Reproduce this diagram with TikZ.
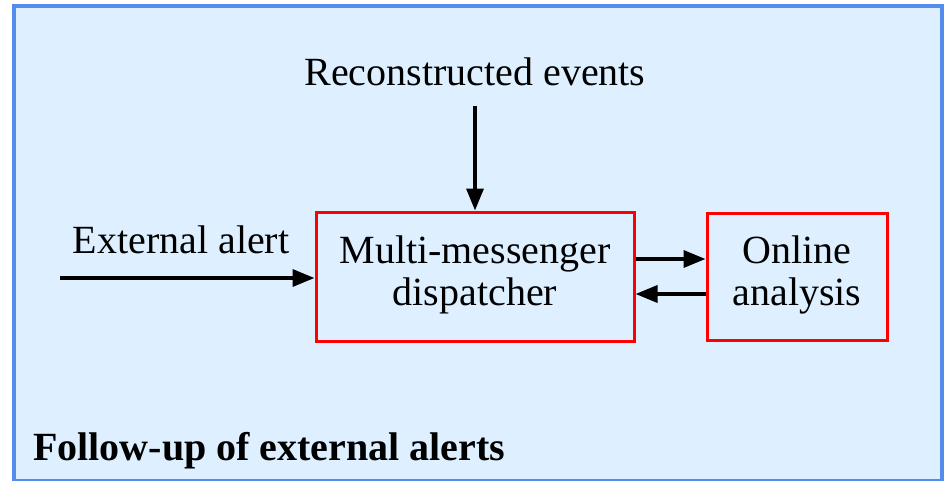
\documentclass[tikz,border=0pt]{standalone}
\usepackage{fontspec}
\setmainfont{Liberation Serif}
\usetikzlibrary{arrows.meta}
\definecolor{bgblue}{RGB}{222,240,255}
\definecolor{frameblue}{RGB}{84,140,236}
\definecolor{boxred}{RGB}{255,0,0}
\tikzset{
  procbox/.style={draw=boxred, line width=3pt, fill=bgblue, align=center, inner sep=0pt},
  flow/.style={line width=3.5pt, -{Triangle[length=22pt,width=17pt]}},
  lbl/.style={font=\fontsize{40}{42}\selectfont, align=center, inner sep=0pt},
}
\begin{document}
\begin{tikzpicture}[x=1pt,y=-1pt]
\useasboundingbox (0,0) rectangle (949,481);
\fill[white] (0,0) rectangle (949,481);
\draw[frameblue, fill=bgblue, line width=4pt] (14,6) rectangle (942,481);
\node[procbox, minimum width=318pt, minimum height=129pt, lbl, text depth=12pt] (mmd) at (475,276.5) {Multi-messenger\\dispatcher};
\node[procbox, minimum width=180pt, minimum height=127pt, lbl, text depth=12pt] (ona) at (797,276.5) {Online\\analysis};
\node[lbl] (rec) at (475,72) {Reconstructed events};
\node[lbl] (ext) at (181,240) {External alert};
\coordinate (recend) at (475,106);
\coordinate (extstart) at (60,278);
\draw[flow] (recend) -- (mmd.north);
\draw[flow] (extstart) -- (extstart -| mmd.west);
\draw[flow] ([yshift=17.5pt]mmd.east) -- ([yshift=17.5pt]ona.west);
\draw[flow] ([yshift=-17.5pt]ona.west) -- ([yshift=-17.5pt]mmd.east);
\node[lbl, font=\fontsize{40}{42}\selectfont\bfseries, anchor=base west] (title) at (33,460) {Follow-up of external alerts};
\end{tikzpicture}
\end{document}
